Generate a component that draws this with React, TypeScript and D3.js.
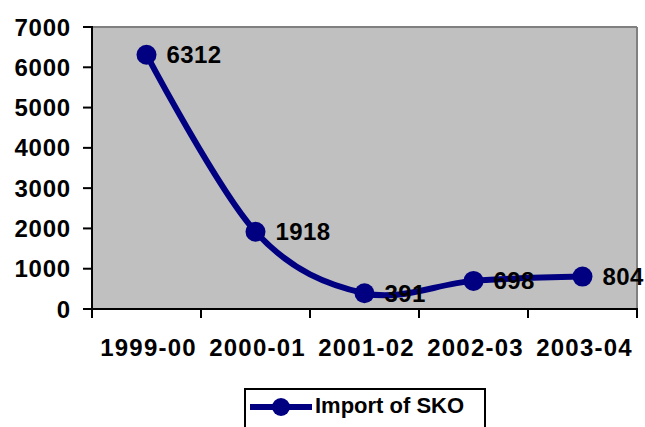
import React from "react";
import * as d3 from "d3";

const categories = ["1999-00", "2000-01", "2001-02", "2002-03", "2003-04"];
const values = [6312, 1918, 391, 698, 804];
const yTicks = [0, 1000, 2000, 3000, 4000, 5000, 6000, 7000];
const seriesName = "Import of SKO";

export default function App() {
  const W = 645, H = 427;
  const left = 92, right = 637, top = 27, bottom = 309;
  const x = d3.scaleBand<string>().domain(categories).range([left, right]);
  const y = d3.scaleLinear().domain([0, 7000]).range([bottom, top]);
  const cx = (c: string) => (x(c) as number) + x.bandwidth() / 2;
  const pts: [number, number][] = categories.map((c, i) => [cx(c), y(values[i])]);
  const line = d3.line().curve(d3.curveCardinal.tension(0))(pts) as string;
  const font = "'Liberation Sans', Arial, sans-serif";
  const navy = "#000080";
  const bounds = [...categories.map((c) => x(c) as number), right];

  return (
    <svg width={W} height={H} style={{ position: "absolute", left: 0, top: 0 }} fontFamily={font} fontWeight="bold">
      <rect x={0} y={0} width={W} height={H} fill="#fff" />
      <rect x={left} y={top} width={right - left} height={bottom - top} fill="#C0C0C0" />
      <line x1={left} y1={top} x2={right} y2={top} stroke="#808080" strokeWidth={2} />
      <line x1={right} y1={top} x2={right} y2={bottom} stroke="#808080" strokeWidth={2} />
      <line x1={left} y1={top - 1} x2={left} y2={bottom + 1} stroke="#000" strokeWidth={2} />
      <line x1={left - 1} y1={bottom} x2={right + 1} y2={bottom} stroke="#000" strokeWidth={2} />
      {yTicks.map((t) => (
        <g key={t}>
          <line x1={left - 9} x2={left} y1={y(t)} y2={y(t)} stroke="#000" strokeWidth={2} />
          <text x={71} y={y(t) + 8.5} textAnchor="end" fontSize={24} letterSpacing={0.8}>
            {t}
          </text>
        </g>
      ))}
      {bounds.map((b, i) => (
        <line key={i} x1={b} x2={b} y1={bottom} y2={bottom + 9} stroke="#000" strokeWidth={2} />
      ))}
      {categories.map((c) => (
        <text key={c} x={cx(c) + 2} y={356} textAnchor="middle" fontSize={24} letterSpacing={1.2}>
          {c}
        </text>
      ))}
      <path d={line} fill="none" stroke={navy} strokeWidth={6} />
      {pts.map((p, i) => (
        <circle key={i} cx={p[0]} cy={p[1]} r={10} fill={navy} />
      ))}
      {pts.map((p, i) => (
        <text key={"l" + i} x={p[0] + 20} y={p[1] + 8.5} fontSize={24} letterSpacing={0.4}>
          {values[i]}
        </text>
      ))}
      <rect x={245} y={389} width={240} height={60} fill="#fff" stroke="#000" strokeWidth={2} />
      <line x1={250} x2={312} y1={407} y2={407} stroke={navy} strokeWidth={6} />
      <circle cx={281} cy={407} r={9} fill={navy} />
      <text x={315} y={413} fontSize={22}>
        {seriesName}
      </text>
    </svg>
  );
}
